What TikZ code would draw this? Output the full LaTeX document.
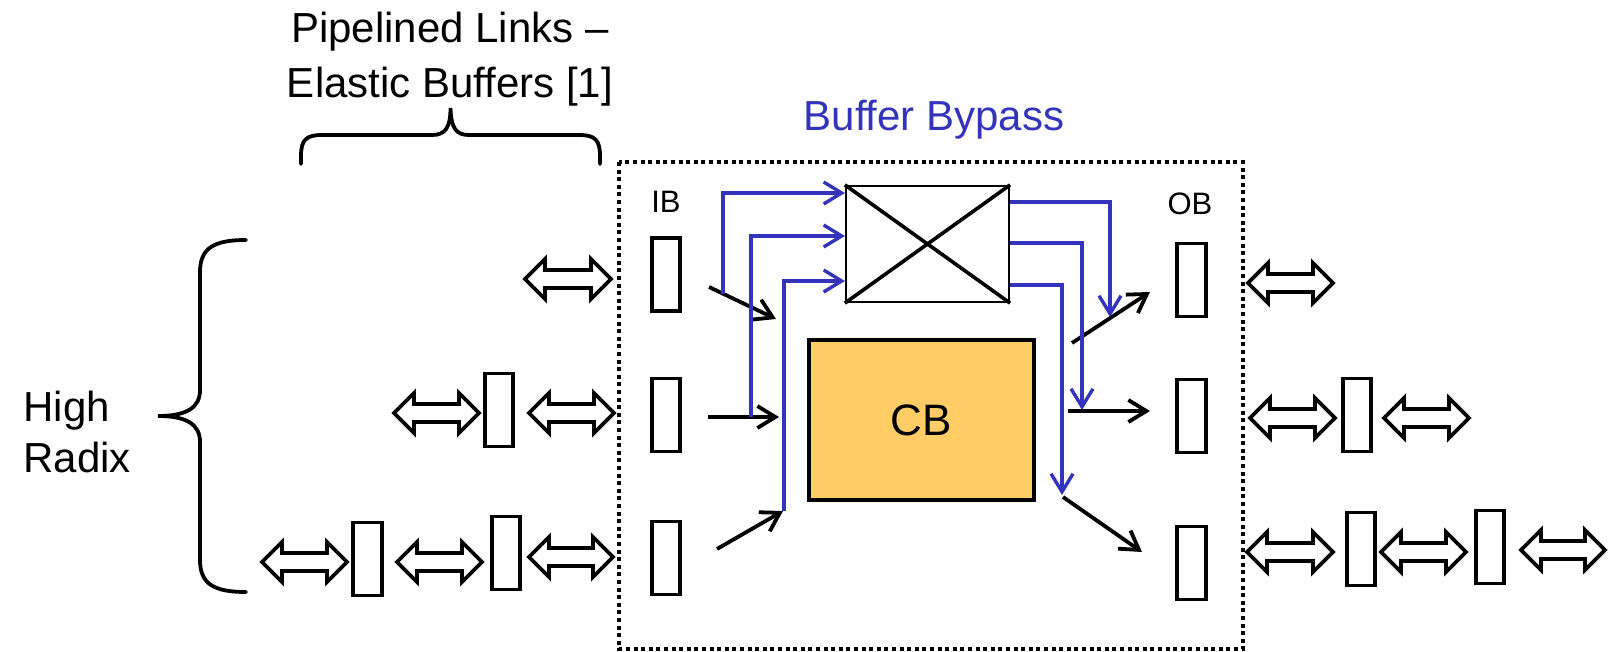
\documentclass[tikz,border=0pt]{standalone}
\usepackage{fontspec}
\setmainfont{Liberation Sans}
\usetikzlibrary{arrows.meta}
\definecolor{bypass}{RGB}{51,51,190}
\definecolor{cbfill}{RGB}{255,204,102}
\newcommand\darr[3]{%
  \draw[dblarr] (#1+2,#3) -- (#1+22,#3-20) -- (#1+22,#3-9) -- (#2-22,#3-9) -- (#2-22,#3-20) -- (#2-2,#3)
   -- (#2-22,#3+20) -- (#2-22,#3+9) -- (#1+22,#3+9) -- (#1+22,#3+20) -- cycle;}
\begin{document}
\begin{tikzpicture}[x=0.5pt,y=-0.5pt,
  buf/.style={draw, line width=1.9pt, minimum width=14.2pt, minimum height=36.5pt, inner sep=0pt},
  dblarr/.style={draw, line width=1.9pt, line join=miter},
  flow/.style={line width=1.9pt, -{Straight Barb[length=9pt,width=11pt]}},
  byp/.style={flow, line width=1.7pt, color=bypass},
  bigtxt/.style={font=\fontsize{21}{26}\selectfont, inner sep=0pt},
  smalltxt/.style={font=\fontsize{15.5}{18}\selectfont, inner sep=0pt},
  bracestyle/.style={line width=1.9pt, line cap=round},
  dotbox/.style={line width=2pt, dash pattern=on 2pt off 1.8pt}]
\useasboundingbox (0,0) rectangle (1610,652);

% switch boundary
\draw[dotbox] (619,162) rectangle (1243,649);

% texts
\node[bigtxt, anchor=base] (pl1) at (450,43) {Pipelined Links –};
\node[bigtxt, anchor=base] (pl2) at (450,98) {Elastic Buffers [1]};
\node[bigtxt, anchor=base, text=bypass] (bb) at (934,131) {Buffer Bypass};
\node[bigtxt, anchor=base west] (hi) at (23,421) {High};
\node[bigtxt, anchor=base west] (rx) at (23,472) {Radix};
\node[smalltxt, anchor=base] (ib) at (666,213) {IB};
\node[smalltxt, anchor=base] (ob) at (1190,215) {OB};

% braces
\draw[bracestyle] (301,164) -- (301,156) .. controls (301,140) and (306,135) .. (322,135) -- (432,135)
  .. controls (445,135) and (450.5,128) .. (450.5,108)
  .. controls (451,128) and (456,135) .. (469,135) -- (579,135)
  .. controls (595,135) and (600,140) .. (600,156) -- (600,164);
\draw[bracestyle] (246,240) .. controls (214,240) and (200,248) .. (200,272) -- (200,390)
  .. controls (200,408) and (186,416) .. (158,416)
  .. controls (186,416) and (200,424) .. (200,442) -- (200,560)
  .. controls (200,584) and (214,592) .. (246,592);

% buffers
\node[buf] (ib1) at (666,274.5) {};
\node[buf] (ib2) at (666,415) {};
\node[buf] (ib3) at (666,558) {};
\node[buf] (ob1) at (1191.5,280) {};
\node[buf] (ob2) at (1191.5,416) {};
\node[buf] (ob3) at (1191.5,563) {};
\node[buf] (l2) at (499,410) {};
\node[buf] (l3a) at (367.5,559) {};
\node[buf] (l3b) at (506,553) {};
\node[buf] (r2) at (1357,415) {};
\node[buf] (r3a) at (1361,549) {};
\node[buf] (r3b) at (1490,547) {};

% link double arrows
\darr{523}{613}{279}
\darr{392}{481}{413}
\darr{527}{616}{413}
\darr{260}{349}{562}
\darr{395}{484}{562}
\darr{527}{615}{557}
\darr{1246}{1335}{283}
\darr{1248}{1337}{418}
\darr{1382}{1471}{418}
\darr{1245}{1335}{552}
\darr{1379}{1468}{552}
\darr{1519}{1607}{550}

% crossbar and central buffer
\node[draw, line width=1.1pt, minimum width=81.5pt, minimum height=58pt, inner sep=0pt] (xb) at (927.5,244) {};
\draw[line width=1.8pt] (xb.north west) -- (xb.south east) (xb.north east) -- (xb.south west);
\node[draw, line width=1.9pt, fill=cbfill, minimum width=112.5pt, minimum height=80pt, inner sep=0pt,
  font=\fontsize{22}{26}\selectfont] (cb) at (921.5,420) {CB};

% black flow arrows
\coordinate (a1s) at (709,287); \coordinate (a1e) at (776,319);
\coordinate (a2s) at (708,417); \coordinate (a2e) at (779,417);
\coordinate (a3s) at (717,549); \coordinate (a3e) at (783,511);
\coordinate (b1s) at (1072,343); \coordinate (b1e) at (1150,292);
\coordinate (b2s) at (1068,411); \coordinate (b2e) at (1150,411);
\coordinate (b3s) at (1063,497); \coordinate (b3e) at (1142,552);
\draw[flow] (a1s) -- (a1e);
\draw[flow] (a2s) -- (a2e);
\draw[flow] (a3s) -- (a3e);
\draw[flow] (b1s) -- (b1e);
\draw[flow] (b2s) -- (b2e);
\draw[flow] (b3s) -- (b3e);

% bypass paths
\coordinate (p1) at (723,294);
\coordinate (p2) at (751,417);
\coordinate (p3) at (784,511);
\coordinate (q1) at (1110,317);
\coordinate (q2) at (1082,410);
\coordinate (q3) at (1062,495);
\draw[byp] (p1) |- (xb.west |- 0,193);
\draw[byp] (p2) |- (xb.west |- 0,236);
\draw[byp] (p3) |- (xb.west |- 0,281);
\draw[byp] (xb.east |- 0,202) -| (q1);
\draw[byp] (xb.east |- 0,243) -| (q2);
\draw[byp] (xb.east |- 0,285) -| (q3);
\end{tikzpicture}
\end{document}
